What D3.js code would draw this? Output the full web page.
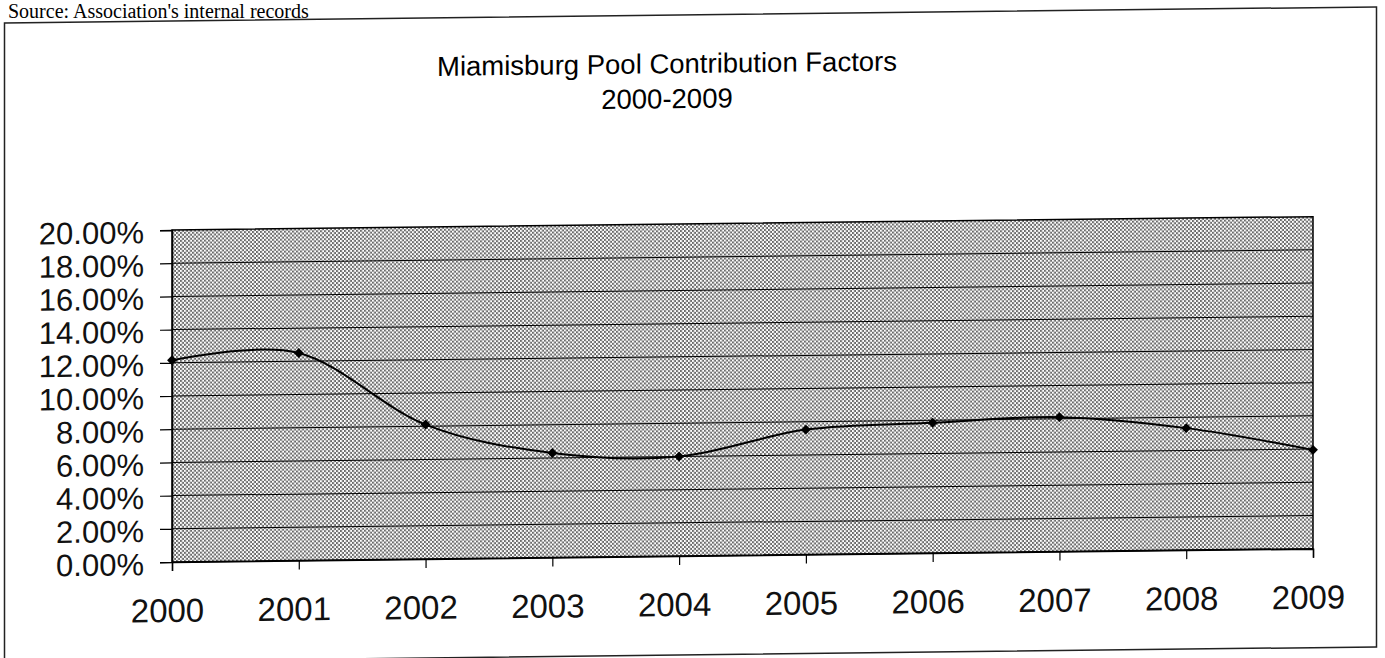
<!DOCTYPE html>
<html lang="en">
<head>
    <meta charset="UTF-8">
    <title>Miamisburg Pool Contribution Factors</title>
    <script src="https://d3js.org/d3.v7.min.js"></script>
    <style>
        body { margin: 0; background: #fff; }
        svg { display: block; }
    </style>
</head>
<body>
    <svg width="1385" height="658"></svg>
    <script>
        // data
        const years = ["2000", "2001", "2002", "2003", "2004", "2005", "2006", "2007", "2008", "2009"];
        const factors = [0.1215, 0.125, 0.081, 0.063, 0.060, 0.0753, 0.0785, 0.081, 0.0735, 0.0595];
        const yTicks = [0, 0.02, 0.04, 0.06, 0.08, 0.10, 0.12, 0.14, 0.16, 0.18, 0.20];

        const svg = d3.select("svg");

        // pattern for the dotted plot area
        const defs = svg.append("defs");
        const pat = defs.append("pattern")
            .attr("id", "dots")
            .attr("patternUnits", "userSpaceOnUse")
            .attr("width", 4)
            .attr("height", 4);
        pat.append("rect").attr("width", 4).attr("height", 4).attr("fill", "#fff");
        pat.append("rect").attr("x", 0).attr("y", 0).attr("width", 2).attr("height", 2).attr("fill", "#6a6a6a");
        pat.append("rect").attr("x", 2).attr("y", 2).attr("width", 2).attr("height", 2).attr("fill", "#6a6a6a");

        // source line above the frame
        svg.append("text")
            .attr("x", 8)
            .attr("y", 18)
            .attr("font-family", "'Liberation Serif', 'Times New Roman', serif")
            .attr("font-size", 20)
            .text("Source: Association's internal records");

        // the scan is slightly skewed, so draw everything in a skewed group
        const g = svg.append("g")
            .attr("transform", "translate(0,2) skewY(-0.67)");

        // outer chart frame
        g.append("rect")
            .attr("x", 4.5)
            .attr("y", 21)
            .attr("width", 1372)
            .attr("height", 640)
            .attr("fill", "none")
            .attr("stroke", "#222")
            .attr("stroke-width", 1.5);

        const cx = 667;
        g.append("text")
            .attr("x", cx)
            .attr("y", 79)
            .attr("text-anchor", "middle")
            .attr("font-family", "'Liberation Sans', Arial, sans-serif")
            .attr("font-size", 27.5)
            .text("Miamisburg Pool Contribution Factors");
        g.append("text")
            .attr("x", cx)
            .attr("y", 114)
            .attr("text-anchor", "middle")
            .attr("font-family", "'Liberation Sans', Arial, sans-serif")
            .attr("font-size", 27.5)
            .text("2000-2009");

        const x = d3.scalePoint().domain(years).range([172, 1313]);
        const y = d3.scaleLinear().domain([0, 0.20]).range([562, 230]);

        // plot area
        g.append("rect")
            .attr("x", x.range()[0])
            .attr("y", y(0.20))
            .attr("width", x.range()[1] - x.range()[0])
            .attr("height", y(0) - y(0.20))
            .attr("fill", "url(#dots)")
            .attr("stroke", "#000")
            .attr("stroke-width", 1.5);

        // horizontal gridlines
        g.append("g")
            .selectAll("line")
            .data(yTicks.filter(d => d > 0 && d < 0.20))
            .join("line")
            .attr("x1", x.range()[0])
            .attr("x2", x.range()[1])
            .attr("y1", d => y(d))
            .attr("y2", d => y(d))
            .attr("stroke", "#000")
            .attr("stroke-width", 1);

        // y axis
        const yAxis = g.append("g")
            .attr("transform", `translate(${x.range()[0]},0)`)
            .call(d3.axisLeft(y).tickValues(yTicks).tickFormat(d3.format(".2%")).tickSize(12).tickPadding(16));
        yAxis.select(".domain").attr("stroke", "#000").attr("stroke-width", 1.5);
        yAxis.selectAll(".tick line").attr("stroke", "#000").attr("stroke-width", 1.2);
        yAxis.selectAll("text")
            .attr("font-family", "'Liberation Sans', Arial, sans-serif")
            .attr("font-size", 31)
            .attr("fill", "#111")
            .attr("dy", "0.4em");

        // x axis
        const xAxis = g.append("g")
            .attr("transform", `translate(0,${y(0)})`)
            .call(d3.axisBottom(x).tickSize(9));
        xAxis.select(".domain").attr("stroke", "#000").attr("stroke-width", 1.5);
        xAxis.selectAll(".tick line").attr("stroke", "#000").attr("stroke-width", 1.2);
        xAxis.selectAll("text")
            .attr("font-family", "'Liberation Sans', Arial, sans-serif")
            .attr("font-size", 33)
            .attr("fill", "#111")
            .attr("x", -5)
            .attr("y", 60)
            .attr("dy", 0);

        // smoothed line
        const line = d3.line()
            .x((d, i) => x(years[i]))
            .y(d => y(d))
            .curve(d3.curveCardinal.tension(0));
        g.append("path")
            .datum(factors)
            .attr("d", line)
            .attr("fill", "none")
            .attr("stroke", "#000")
            .attr("stroke-width", 2);

        // diamond markers
        const diamond = d3.symbol().type(d3.symbolSquare).size(49);
        g.append("g")
            .selectAll("path")
            .data(factors)
            .join("path")
            .attr("d", diamond)
            .attr("transform", (d, i) => `translate(${x(years[i])},${y(d)}) rotate(45)`)
            .attr("fill", "#000");
    </script>
</body>
</html>
